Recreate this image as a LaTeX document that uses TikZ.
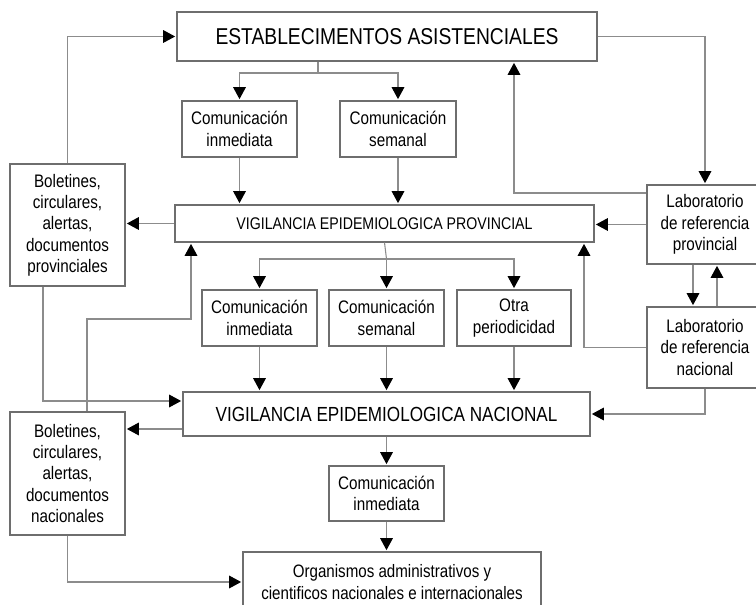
\documentclass[tikz,border=0pt]{standalone}
\usepackage{fontspec}
\setmainfont{Liberation Sans}[FakeStretch=0.84]
\usetikzlibrary{arrows.meta,calc,positioning}
\definecolor{Ink}{HTML}{000000}
\definecolor{Frame}{HTML}{6E6E6E}
\definecolor{Wire}{HTML}{8C8C8C}
\tikzset{
  unit/.style={
    draw=Frame, line width=0.8pt, fill=white, inner sep=0pt,
    align=center, font=\fontsize{13.6}{16}\selectfont
  },
  mainunit/.style={unit, font=\fontsize{17.2}{20}\selectfont},
  flow/.style={-{Triangle[length=9pt,width=9.5pt,color=Ink]}, line width=0.8pt, draw=Wire, shorten >=1pt},
  link/.style={line width=0.8pt, draw=Wire}
}
\begin{document}
\begin{tikzpicture}[x=0.75pt,y=-0.75pt]
    \useasboundingbox (0,0) rectangle (756,605);
    % upper level
    \node[mainunit,minimum width=315pt,minimum height=36.75pt] (estab) at (387,36.5) {ESTABLECIMENTOS ASISTENCIALES};
    \node[unit,minimum width=86.25pt,minimum height=42pt] (inmprov) at (239.5,129) {Comunicación\\inmediata};
    \node[unit,minimum width=87pt,minimum height=42pt] (semprov) at (398,129) {Comunicación\\semanal};
    \node[unit,minimum width=314.25pt,minimum height=27.75pt,font=\fontsize{12.65}{15}\selectfont] (vprov) at (384.5,223.5) {VIGILANCIA EPIDEMIOLOGICA PROVINCIAL};
    \node[unit,minimum width=86.25pt,minimum height=91.5pt] (bolprov) at (67.5,225) {Boletines,\\circulares,\\alertas,\\documentos\\provinciales};
    % middle level
    \node[unit,minimum width=86.25pt,minimum height=42pt] (inmnac) at (259.5,318) {Comunicación\\inmediata};
    \node[unit,minimum width=86.25pt,minimum height=42pt] (semnac) at (386.5,318) {Comunicación\\semanal};
    \node[unit,minimum width=85.5pt,minimum height=42pt] (otra) at (514,318) {Otra\\periodicidad};
    \node[mainunit,minimum width=305.25pt,minimum height=33pt,font=\fontsize{15.3}{18}\selectfont] (vnac) at (386.5,414) {VIGILANCIA EPIDEMIOLOGICA NACIONAL};
    \node[unit,minimum width=86.25pt,minimum height=92.25pt] (bolnac) at (67.5,473.5) {Boletines,\\circulares,\\alertas,\\documentos\\nacionales};
    % lower level
    \node[unit,minimum width=86.25pt,minimum height=41.25pt] (inmint) at (386.5,493.5) {Comunicación\\inmediata};
    \node[unit,minimum width=223.5pt,minimum height=45pt,font=\fontsize{13.5}{16}\selectfont] (org) at (392,582) {Organismos administrativos y\\cientificos nacionales e internacionales};
    % laboratories
    \node[unit,minimum width=87pt,minimum height=59.25pt] (labprov) at (705,224.5) {Laboratorio\\de referencia\\provincial};
    \node[unit,minimum width=87pt,minimum height=60.75pt] (labnac) at (705,347.5) {Laboratorio\\de referencia\\nacional};
    % bends
    \coordinate (forkprov) at (318,73);
    \coordinate (forknac) at (386.5,259);
    \coordinate (b1) at (43,401);
    \coordinate (b2) at (87,319);
    \coordinate (b3) at (191,319);
    \coordinate (b4) at (0,429);
    \coordinate (l1) at (514,193);
    \coordinate (l2) at (693,0);
    \coordinate (l3) at (717,0);
    \coordinate (l4) at (584,0);
    % establishments to provincial level
    \draw[link] (estab.south -| forkprov) -- (forkprov);
    \draw[flow] (forkprov) -| (inmprov.north);
    \draw[flow] (forkprov) -| (semprov.north);
    \draw[flow] (inmprov.south) -- (inmprov.south |- vprov.north);
    \draw[flow] (semprov.south) -- (semprov.south |- vprov.north);
    \draw[flow] (vprov.west) -- (vprov.west -| bolprov.east);
    \draw[flow] (bolprov.north) |- (estab.west);
    % provincial to national level
    \draw[link] (vprov.south) -- (forknac);
    \draw[flow] (forknac) -| (inmnac.north);
    \draw[flow] (forknac) -- (semnac.north);
    \draw[flow] (forknac) -| (otra.north);
    \draw[flow] (inmnac.south) -- (inmnac.south |- vnac.north);
    \draw[flow] (semnac.south) -- (semnac.south |- vnac.north);
    \draw[flow] (otra.south) -- (otra.south |- vnac.north);
    \draw[flow] (bolprov.south -| b1) |- (vnac.west |- b1);
    \draw[flow] (bolnac.north -| b2) -- (b2) -- (b3) -- (vprov.south -| b3);
    \draw[flow] (vnac.west |- b4) -- (bolnac.east |- b4);
    % national to organisms
    \draw[flow] (vnac.south) -- (inmint.north);
    \draw[flow] (inmint.south) -- (inmint.south |- org.north);
    \draw[flow] (bolnac.south) |- (org.west);
    % laboratories
    \draw[flow] (estab.east) -| (labprov.north);
    \draw[flow] (labprov.west |- l1) -| (estab.south -| l1);
    \draw[flow] (labprov.west) -- (labprov.west -| vprov.east);
    \draw[flow] (labprov.south -| l2) -- (labnac.north -| l2);
    \draw[flow] (labnac.north -| l3) -- (labprov.south -| l3);
    \draw[flow] (labnac.west) -| (vprov.south -| l4);
    \draw[flow] (labnac.south) |- (vnac.east);
\end{tikzpicture}
\end{document}
